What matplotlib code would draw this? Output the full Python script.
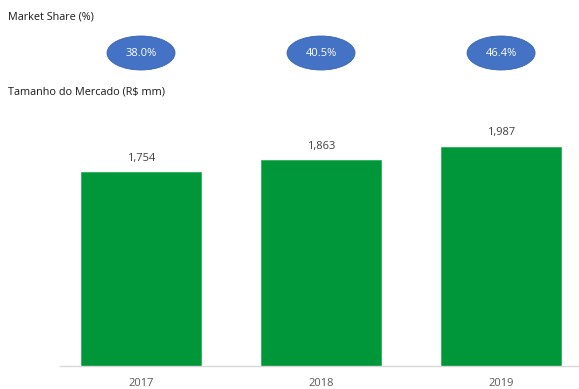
import matplotlib
matplotlib.use("Agg")
import matplotlib.pyplot as plt
from matplotlib.patches import Ellipse
from matplotlib.transforms import blended_transform_factory

years = ["2017", "2018", "2019"]
market_size = [1754, 1863, 1987]
market_share = [38.0, 40.5, 46.4]

plt.rcParams['font.family'] = ['Open Sans', 'DejaVu Sans']

W, H = 579, 389
fig = plt.figure(figsize=(W / 100, H / 100), dpi=100)
ax = fig.add_axes([60 / W, (H - 366) / H, 1 - 60 / W, (366 - 123) / H])

x = list(range(len(years)))
green = "#00963A"
ax.bar(x, market_size, width=0.667, color=green, edgecolor="#2FB05A", linewidth=0.6)
ax.set_xlim(-0.45, 2.433)
ax.set_ylim(0, 2200)

for xi, v in zip(x, market_size):
    ax.annotate(f"{v:,}", (xi, v), xytext=(0, 6), textcoords="offset points",
                ha="center", va="bottom", fontsize=8, color="#404040")

for s in ["top", "right", "left"]:
    ax.spines[s].set_visible(False)
ax.spines["bottom"].set_color("#D9D9D9")
ax.spines["bottom"].set_linewidth(1.0)
ax.set_yticks([])
ax.set_xticks(x)
ax.set_xticklabels(years, fontsize=8, color="#595959")
ax.tick_params(axis="x", length=0, pad=9)

fig.text(8 / W, 1 - 17 / H, "Market Share (%)", fontsize=7.8, color="#1A1A1A",
         ha="left", va="center")
fig.text(8 / W, 1 - 92 / H, "Tamanho do Mercado (R$ mm)", fontsize=7.8, color="#1A1A1A",
         ha="left", va="center")

trans = blended_transform_factory(ax.transData, fig.transFigure)
ey = 1 - 53 / H
for xi, s in zip(x, market_share):
    e = Ellipse((xi, ey), width=68 / 180, height=34 / H, transform=trans,
                facecolor="#4472C4", edgecolor="#3A64B0", linewidth=0.6, clip_on=False)
    fig.patches.append(e)
    fig.text(0, 0, f"{s:.1f}%", transform=trans, fontsize=8, color="white",
             ha="center", va="center").set_position((xi, ey))

fig.savefig("out.png", dpi=100)
